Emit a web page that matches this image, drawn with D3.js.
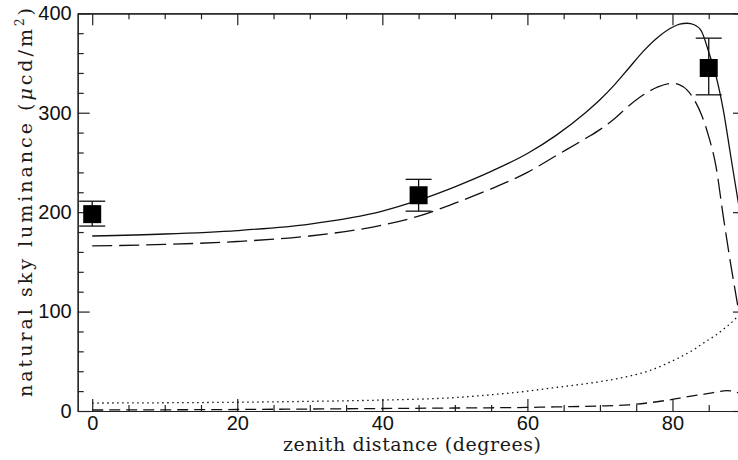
<!DOCTYPE html>
<html>
<head>
<meta charset="utf-8">
<script src="https://cdn.jsdelivr.net/npm/d3@7"></script>
<style>
  html, body { margin: 0; padding: 0; background: #fff; }
  svg { display: block; }
  .tick text { font-family: "Liberation Sans", "DejaVu Sans", sans-serif; font-size: 20px; fill: #111; }
  .title { font-family: "DejaVu Serif", "Liberation Serif", serif; font-size: 19px; fill: #1a1a1a; }
</style>
</head>
<body>
<svg id="chart" width="738" height="460"></svg>
<script>
// Zenith distance grid (degrees) for the model curves
const modelZ = [0, 10, 20, 30, 40, 45, 50, 55, 60, 64, 68, 70, 72, 74, 76, 78, 80, 81, 82, 83, 84, 85, 86, 87, 88, 89, 90];
// Total natural sky luminance (solid)
const totalLum = [176, 178, 181.5, 188, 201, 212, 225.5, 241, 259, 277.5, 300, 313, 328, 345, 362, 376, 386, 389, 390, 388.5, 382, 361, 337, 303, 258, 213, 170];
// Scattered-light component (long dashes)
const scatterLum = [166, 167.5, 170.5, 176, 187, 196, 209, 223.5, 240, 257, 274, 283, 294, 307, 318, 326, 329.5, 328, 323, 313, 298, 276, 246, 196, 149, 106, 62];

// Second grid for the two faint components
const faintZ = [0, 10, 20, 30, 40, 50, 56, 60, 63, 66, 70, 74, 77, 79, 81, 83, 84, 86, 87.5, 88, 89, 90];
// Dotted component
const dottedLum = [8, 8.3, 8.8, 9.7, 11, 13.5, 17, 20, 22.8, 25.5, 29.5, 35, 41, 47, 54, 62, 67, 76.5, 85, 88, 95, 100];
// Short-dashed component
const dashedLum = [1, 1.2, 1.5, 2, 2.5, 3, 3.3, 3.6, 4, 4.4, 5, 6.2, 8.5, 10.5, 13, 15.5, 16.5, 19, 20.5, 20.3, 18.5, 17];

// Measured points with asymmetric errors
const obsZ = [0, 45, 85];
const obsLum = [198, 217, 345];
const obsErrUp = [13, 16, 30];
const obsErrDown = [12, 16, 27];

// Axis ticks
const xMajor = [0, 20, 40, 60, 80];
const xMinor = d3.range(0, 91, 5).filter(v => v % 20 !== 0);
const yMajor = [0, 100, 200, 300, 400];
const yMinor = d3.range(0, 401, 20).filter(v => v % 100 !== 0);

const svg = d3.select("#chart");
const plotL = 77.7, plotR = 745, plotT = 13.3, plotB = 411;

const x = d3.scaleLinear().domain([-2, 90]).range([plotL, plotR]);
const y = d3.scaleLinear().domain([0, 400]).range([plotB, plotT]);

svg.append("defs").append("clipPath").attr("id", "plotclip")
  .append("rect").attr("x", plotL).attr("y", plotT)
  .attr("width", plotR - plotL).attr("height", plotB - plotT);

const axisColor = "#222";
function styleAxis(g) {
  g.selectAll("path.domain").attr("stroke", axisColor).attr("stroke-width", 1.2);
  g.selectAll(".tick line").attr("stroke", axisColor).attr("stroke-width", 1.2);
}

// Bottom axis
const gb = svg.append("g").attr("transform", `translate(0,${plotB})`)
  .call(d3.axisBottom(x).tickValues(xMajor).tickSize(-12).tickSizeOuter(0).tickFormat(d3.format("d")));
gb.selectAll("text").attr("y", 19).attr("dy", 0);
styleAxis(gb);
const gbm = svg.append("g").attr("transform", `translate(0,${plotB})`)
  .call(d3.axisBottom(x).tickValues(xMinor).tickSize(-6).tickSizeOuter(0).tickFormat(""));
styleAxis(gbm);

// Top axis
const gt = svg.append("g").attr("transform", `translate(0,${plotT})`)
  .call(d3.axisTop(x).tickValues(xMajor).tickSize(-12).tickSizeOuter(0).tickFormat(""));
styleAxis(gt);
const gtm = svg.append("g").attr("transform", `translate(0,${plotT})`)
  .call(d3.axisTop(x).tickValues(xMinor).tickSize(-6).tickSizeOuter(0).tickFormat(""));
styleAxis(gtm);

// Left axis
const gl = svg.append("g").attr("transform", `translate(${plotL},0)`)
  .call(d3.axisLeft(y).tickValues(yMajor).tickSize(-12).tickSizeOuter(0).tickPadding(6).tickFormat(d3.format("d")));
styleAxis(gl);
const glm = svg.append("g").attr("transform", `translate(${plotL},0)`)
  .call(d3.axisLeft(y).tickValues(yMinor).tickSize(-6).tickSizeOuter(0).tickFormat(""));
styleAxis(glm);

// Right axis
const gr = svg.append("g").attr("transform", `translate(${plotR},0)`)
  .call(d3.axisRight(y).tickValues(yMajor).tickSize(-12).tickSizeOuter(0).tickFormat(""));
styleAxis(gr);
const grm = svg.append("g").attr("transform", `translate(${plotR},0)`)
  .call(d3.axisRight(y).tickValues(yMinor).tickSize(-6).tickSizeOuter(0).tickFormat(""));
styleAxis(grm);

// Model curves
const plot = svg.append("g").attr("clip-path", "url(#plotclip)");
function drawCurve(zs, vals, dash, width) {
  const line = d3.line().x((d, i) => x(zs[i])).y(d => y(d)).curve(d3.curveMonotoneX);
  plot.append("path").datum(vals)
    .attr("d", line)
    .attr("fill", "none")
    .attr("stroke", "#111")
    .attr("stroke-width", width)
    .attr("stroke-dasharray", dash);
}
drawCurve(modelZ, totalLum, null, 1.3);
drawCurve(modelZ, scatterLum, "20,7", 1.3);
drawCurve(faintZ, dottedLum, "1.5,3.5", 1.3);
drawCurve(faintZ, dashedLum, "11,6", 1.3);

// Observations with error bars
const obs = obsZ.map((z, i) => ({ z, v: obsLum[i], hi: obsLum[i] + obsErrUp[i], lo: obsLum[i] - obsErrDown[i] }));
const capHalf = 13, boxHalf = 9;
const og = svg.append("g").attr("stroke", "#111").attr("stroke-width", 1.3);
og.selectAll("line.bar").data(obs).join("line").attr("class", "bar")
  .attr("x1", d => x(d.z)).attr("x2", d => x(d.z))
  .attr("y1", d => y(d.hi)).attr("y2", d => y(d.lo));
og.selectAll("line.capHi").data(obs).join("line").attr("class", "capHi")
  .attr("x1", d => x(d.z) - capHalf).attr("x2", d => x(d.z) + capHalf)
  .attr("y1", d => y(d.hi)).attr("y2", d => y(d.hi));
og.selectAll("line.capLo").data(obs).join("line").attr("class", "capLo")
  .attr("x1", d => x(d.z) - capHalf).attr("x2", d => x(d.z) + capHalf)
  .attr("y1", d => y(d.lo)).attr("y2", d => y(d.lo));
svg.append("g").selectAll("rect").data(obs).join("rect")
  .attr("x", d => x(d.z) - boxHalf).attr("y", d => y(d.v) - boxHalf)
  .attr("width", 2 * boxHalf).attr("height", 2 * boxHalf)
  .attr("fill", "#000");

// Axis titles
svg.append("text").attr("class", "title")
  .attr("x", 412).attr("y", 451).attr("text-anchor", "middle")
  .attr("textLength", 258).attr("lengthAdjust", "spacing")
  .text("zenith distance (degrees)");

const yt = svg.append("text").attr("class", "title")
  .attr("transform", "translate(32,202.5) rotate(-90)")
  .attr("text-anchor", "middle")
  .attr("textLength", 389).attr("lengthAdjust", "spacing");
yt.append("tspan").text("natural sky luminance (");
yt.append("tspan").attr("font-style", "italic").text("μ");
yt.append("tspan").text("cd/m");
yt.append("tspan").attr("font-size", "12px").attr("dy", -8).text("2");
yt.append("tspan").attr("dy", 8).text(")");
</script>
</body>
</html>
